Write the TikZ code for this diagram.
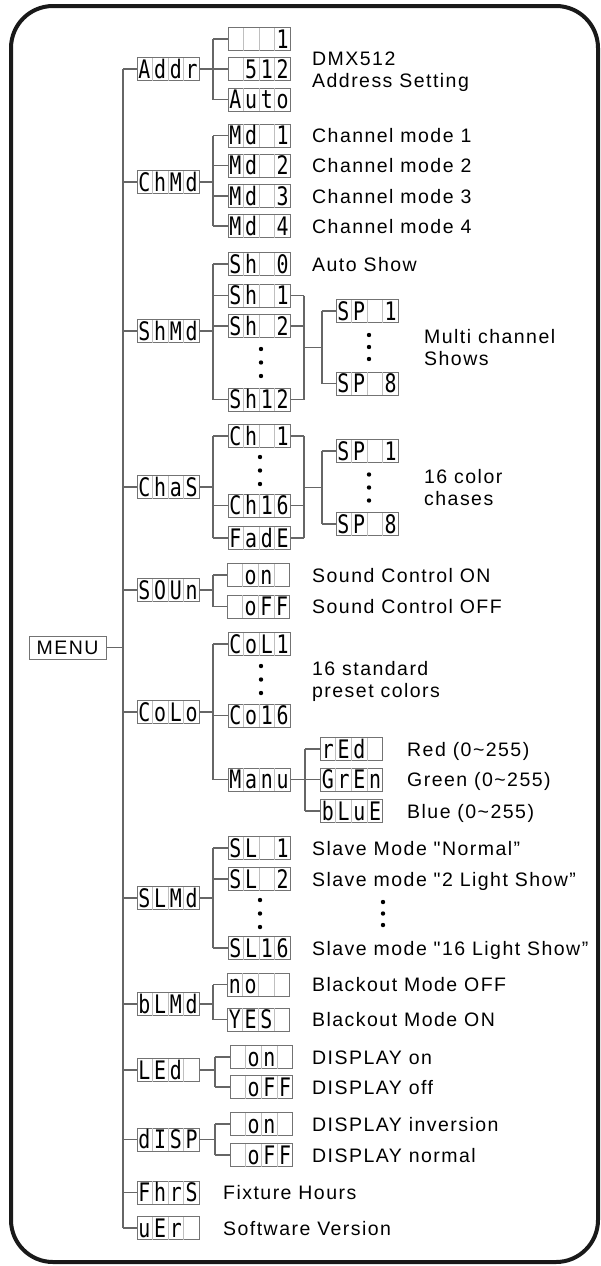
\documentclass[tikz,border=0pt]{standalone}
\usepackage{fontspec}
\newfontfamily\lblfont{Liberation Sans}[LetterSpace=7.5]
\newfontfamily\segfont{DejaVu Sans Mono}[FakeStretch=0.78]
\usetikzlibrary{calc}

% one display cell, and a four cell display
\newlength\segw
\setlength\segw{14.9pt}
\newcommand\segcell[1]{\makebox[\segw]{\raisebox{-9.2pt}{#1}}}
\newcommand\segsep{{\color{black!25}\vrule width 0.8pt height 11.5pt depth 11.5pt}}
\newcommand\seg[4]{\segcell{#1}\segsep\segcell{#2}\segsep\segcell{#3}\segsep\segcell{#4}}

\begin{document}
\begin{tikzpicture}[
    x=1pt, y=-1pt,
    % boxes
    segbox/.style={draw=black!55, line width=1pt, inner sep=0pt, font=\segfont\fontsize{25.5}{25.5}\selectfont},
    menubox/.style={draw=black!55, line width=1pt, inner sep=0pt, minimum width=77pt, minimum height=23pt,
                    font=\lblfont\fontsize{19.5}{23}\selectfont},
    % texts
    lbl/.style={inner sep=0pt, anchor=base west, font=\lblfont\fontsize{19.5}{23}\selectfont},
    % lines
    tree/.style={draw=black!60, line width=1.1pt},
    border/.style={draw=black!90, line width=4pt, rounded corners=42pt},
    pics/threedots/.style={code={\fill (0,-#1) circle (2.2) (0,0) circle (2.2) (0,#1) circle (2.2);}}
  ]

  \useasboundingbox (0,0) rectangle (601,1266);
  \draw[border] (11,6) rectangle (598,1262);

  % columns of the tree
  \coordinate (tk)  at (123,0);
  \coordinate (bk)  at (213,0);
  \coordinate (bk2) at (215,0);
  \coordinate (rk)  at (304,0);
  \coordinate (rk2) at (322,0);
  \coordinate (mk)  at (305,0);

  \node (menu) [menubox] at (67.5,647.5) {MENU};

  \node (addr) [segbox] at (168,69)     {\seg{A}{d}{d}{r}};
  \node (chmd) [segbox] at (168,182)    {\seg{C}{h}{M}{d}};
  \node (shmd) [segbox] at (168,331)    {\seg{S}{h}{M}{d}};
  \node (chas) [segbox] at (168,487)    {\seg{C}{h}{a}{S}};
  \node (soun) [segbox] at (168,590)    {\seg{S}{O}{U}{n}};
  \node (colo) [segbox] at (168,712)    {\seg{C}{o}{L}{o}};
  \node (slmd) [segbox] at (168,898)    {\seg{S}{L}{M}{d}};
  \node (blmd) [segbox] at (168,1004)   {\seg{b}{L}{M}{d}};
  \node (led)  [segbox] at (168,1070)   {\seg{L}{E}{d}{}};
  \node (dsp)  [segbox] at (168,1139.5) {\seg{d}{I}{S}{P}};
  \node (fhrs) [segbox] at (168,1192.5) {\seg{F}{h}{r}{S}};
  \node (ver)  [segbox] at (168,1228)   {\seg{u}{E}{r}{}};

  % address
  \node (ad1) [segbox] at (259,39)   {\seg{}{}{}{1}};
  \node (ad2) [segbox] at (259,69)   {\seg{}{5}{1}{2}};
  \node (ad3) [segbox] at (259,99.5) {\seg{A}{u}{t}{o}};
  \node [lbl] at (312,65) {DMX512};
  \node [lbl] at (312,87) {Address Setting};

  % channel modes
  \node (md1) [segbox] at (259,135.5) {\seg{M}{d}{}{1}};
  \node (md2) [segbox] at (259,165.5) {\seg{M}{d}{}{2}};
  \node (md3) [segbox] at (259,196)   {\seg{M}{d}{}{3}};
  \node (md4) [segbox] at (259,226)   {\seg{M}{d}{}{4}};
  \node [lbl] at (312,142.5) {Channel mode 1};
  \node [lbl] at (312,172.5) {Channel mode 2};
  \node [lbl] at (312,203)   {Channel mode 3};
  \node [lbl] at (312,233)   {Channel mode 4};

  % shows
  \node (sh0)  [segbox] at (259,264)   {\seg{S}{h}{}{0}};
  \node (sh1)  [segbox] at (259,295.5) {\seg{S}{h}{}{1}};
  \node (sh2)  [segbox] at (259,326)   {\seg{S}{h}{}{2}};
  \pic at (261,362.5) {threedots=13.5};
  \node (sh12) [segbox] at (259,399.5) {\seg{S}{h}{1}{2}};
  \node (spa1) [segbox] at (367,311)   {\seg{S}{P}{}{1}};
  \pic at (369,347) {threedots=12};
  \node (spa8) [segbox] at (367,383.5) {\seg{S}{P}{}{8}};
  \node [lbl] at (312,271) {Auto Show};
  \node [lbl] at (424,343) {Multi channel};
  \node [lbl] at (424,365) {Shows};

  % chases
  \node (ch1)  [segbox] at (259,436)   {\seg{C}{h}{}{1}};
  \pic at (260,470.5) {threedots=13.5};
  \node (ch16) [segbox] at (259,505.5) {\seg{C}{h}{1}{6}};
  \node (fade) [segbox] at (259,538)   {\seg{F}{a}{d}{E}};
  \node (spb1) [segbox] at (367,451)   {\seg{S}{P}{}{1}};
  \pic at (369,487.5) {threedots=13};
  \node (spb8) [segbox] at (367,524)   {\seg{S}{P}{}{8}};
  \node [lbl] at (424,483) {16 color};
  \node [lbl] at (424,505) {chases};

  % sound
  \node (son)  [segbox] at (258.5,575)   {\seg{}{o}{n}{}};
  \node (soff) [segbox] at (258.5,606.5) {\seg{}{o}{F}{F}};
  \node [lbl] at (312,582)   {Sound Control ON};
  \node [lbl] at (312,613.5) {Sound Control OFF};

  % colours
  \node (col1) [segbox] at (259,644)   {\seg{C}{o}{L}{1}};
  \pic at (261,679.5) {threedots=13.5};
  \node (co16) [segbox] at (259,715.5) {\seg{C}{o}{1}{6}};
  \node (manu) [segbox] at (259,779.5) {\seg{M}{a}{n}{u}};
  \node (red)  [segbox] at (351.5,749)   {\seg{r}{E}{d}{}};
  \node (gren) [segbox] at (351.5,779.5) {\seg{G}{r}{E}{n}};
  \node (blue) [segbox] at (351.5,811)   {\seg{b}{L}{u}{E}};
  \node [lbl] at (312,675) {16 standard};
  \node [lbl] at (312,697) {preset colors};
  \node [lbl] at (407,756)   {Red (0\textasciitilde255)};
  \node [lbl] at (407,786.5) {Green (0\textasciitilde255)};
  \node [lbl] at (407,818)   {Blue (0\textasciitilde255)};

  % slave modes
  \node (sl1)  [segbox] at (259,848) {\seg{S}{L}{}{1}};
  \node (sl2)  [segbox] at (259,879) {\seg{S}{L}{}{2}};
  \pic at (260,913.5) {threedots=13.5};
  \node (sl16) [segbox] at (259,948) {\seg{S}{L}{1}{6}};
  \node [lbl] at (312,855) {Slave Mode "Normal”};
  \node [lbl] at (312,886) {Slave mode "2 Light Show”};
  \pic at (383,913.5) {threedots=11.5};
  \node [lbl] at (312,955) {Slave mode "16 Light Show”};

  % blackout
  \node (bno)  [segbox] at (258.5,984.5)  {\seg{n}{o}{}{}};
  \node (byes) [segbox] at (258.5,1019.5) {\seg{Y}{E}{S}{}};
  \node [lbl] at (312,991.5)  {Blackout Mode OFF};
  \node [lbl] at (312,1026.5) {Blackout Mode ON};

  % display
  \node (lon)  [segbox] at (261.5,1057) {\seg{}{o}{n}{}};
  \node (loff) [segbox] at (261.5,1087) {\seg{}{o}{F}{F}};
  \node (don)  [segbox] at (261.5,1124) {\seg{}{o}{n}{}};
  \node (doff) [segbox] at (261.5,1155) {\seg{}{o}{F}{F}};
  \node [lbl] at (312,1064) {DISPLAY on};
  \node [lbl] at (312,1094) {DISPLAY off};
  \node [lbl] at (312,1131) {DISPLAY inversion};
  \node [lbl] at (312,1162) {DISPLAY normal};

  \node [lbl] at (223,1199.5) {Fixture Hours};
  \node [lbl] at (223,1235)   {Software Version};

  % trunk
  \draw[tree] (addr -| tk) -- (ver -| tk);
  \draw[tree] (menu) -- (menu -| tk);
  \draw[tree] (tk |- addr) edge (addr)
              (tk |- chmd) edge (chmd)
              (tk |- shmd) edge (shmd)
              (tk |- chas) edge (chas)
              (tk |- soun) edge (soun)
              (tk |- colo) edge (colo)
              (tk |- slmd) edge (slmd)
              (tk |- blmd) edge (blmd)
              (tk |- led)  edge (led)
              (tk |- dsp)  edge (dsp)
              (tk |- fhrs) edge (fhrs)
              (tk |- ver)  edge (ver);

  % branches
  \draw[tree] (addr) -- (addr -| bk);
  \draw[tree] (ad1 -| bk) -- (ad3 -| bk);
  \draw[tree] (bk |- ad1) edge (ad1) (bk |- ad2) edge (ad2) (bk |- ad3) edge (ad3);

  \draw[tree] (chmd) -- (chmd -| bk);
  \draw[tree] (md1 -| bk) -- (md4 -| bk);
  \draw[tree] (bk |- md1) edge (md1) (bk |- md2) edge (md2)
              (bk |- md3) edge (md3) (bk |- md4) edge (md4);

  \draw[tree] (shmd) -- (shmd -| bk);
  \draw[tree] (sh0 -| bk) -- (sh12 -| bk);
  \draw[tree] (bk |- sh0) edge (sh0) (bk |- sh1) edge (sh1)
              (bk |- sh2) edge (sh2) (bk |- sh12) edge (sh12);
  \draw[tree] (rk |- sh1) edge (sh1) (rk |- sh2) edge (sh2) (rk |- sh12) edge (sh12);
  \draw[tree] (sh1 -| rk) -- (sh12 -| rk);
  \coordinate (shj) at ($(spa1 -| rk2)!0.5!(spa8 -| rk2)$);
  \draw[tree] (shj -| rk) -- (shj);
  \draw[tree] (spa1 -| rk2) -- (spa8 -| rk2);
  \draw[tree] (rk2 |- spa1) edge (spa1) (rk2 |- spa8) edge (spa8);

  \draw[tree] (chas) -- (chas -| bk);
  \draw[tree] (ch1 -| bk) -- (fade -| bk);
  \draw[tree] (bk |- ch1) edge (ch1) (bk |- ch16) edge (ch16) (bk |- fade) edge (fade);
  \draw[tree] (rk |- ch1) edge (ch1) (rk |- ch16) edge (ch16) (rk |- fade) edge (fade);
  \draw[tree] (ch1 -| rk) -- (fade -| rk);
  \coordinate (chj) at ($(spb1 -| rk2)!0.5!(spb8 -| rk2)$);
  \draw[tree] (chj -| rk) -- (chj);
  \draw[tree] (spb1 -| rk2) -- (spb8 -| rk2);
  \draw[tree] (rk2 |- spb1) edge (spb1) (rk2 |- spb8) edge (spb8);

  \draw[tree] (soun) -- (soun -| bk);
  \draw[tree] (son -| bk) -- (soff -| bk);
  \draw[tree] (bk |- son) edge (son) (bk |- soff) edge (soff);

  \draw[tree] (colo) -- (colo -| bk);
  \draw[tree] (col1 -| bk) -- (manu -| bk);
  \draw[tree] (bk |- col1) edge (col1) (bk |- co16) edge (co16) (bk |- manu) edge (manu);
  \draw[tree] (manu) -- (manu -| mk);
  \draw[tree] (red -| mk) -- (blue -| mk);
  \draw[tree] (mk |- red) edge (red) (mk |- gren) edge (gren) (mk |- blue) edge (blue);

  \draw[tree] (slmd) -- (slmd -| bk);
  \draw[tree] (sl1 -| bk) -- (sl16 -| bk);
  \draw[tree] (bk |- sl1) edge (sl1) (bk |- sl2) edge (sl2) (bk |- sl16) edge (sl16);

  \draw[tree] (blmd) -- (blmd -| bk);
  \draw[tree] (bno -| bk) -- (byes -| bk);
  \draw[tree] (bk |- bno) edge (bno) (bk |- byes) edge (byes);

  \draw[tree] (led) -- (led -| bk2);
  \draw[tree] (lon -| bk2) -- (loff -| bk2);
  \draw[tree] (bk2 |- lon) edge (lon) (bk2 |- loff) edge (loff);

  \draw[tree] (dsp) -- (dsp -| bk2);
  \draw[tree] (don -| bk2) -- (doff -| bk2);
  \draw[tree] (bk2 |- don) edge (don) (bk2 |- doff) edge (doff);
\end{tikzpicture}
\end{document}
